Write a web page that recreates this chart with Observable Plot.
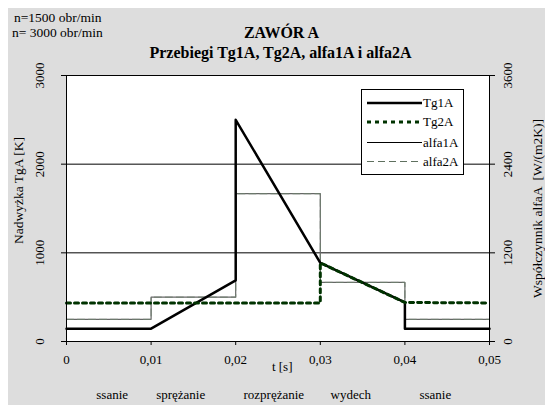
<!DOCTYPE html>
<html>
<head>
<meta charset="utf-8">
<script src="https://cdn.jsdelivr.net/npm/d3@7"></script>
<script src="https://cdn.jsdelivr.net/npm/@observablehq/plot@0.6"></script>
<style>
  html, body { margin: 0; padding: 0; background: #ffffff; }
  #page { position: relative; width: 545px; height: 405px; overflow: hidden; font-family: "Liberation Serif", "Times New Roman", serif; color: #000; }
  #bg { position: absolute; left: 8px; top: 8px; right: 0; bottom: 0; background: #dddddd; }
  #chart { position: absolute; left: 0; top: 0; }
  #chart svg, #chart svg text, #legend svg text { font-family: "Liberation Serif", "Times New Roman", serif !important; }
  .t { position: absolute; white-space: nowrap; line-height: 1; }
  #legend { position: absolute; left: 361px; top: 89px; width: 103px; height: 86px; background: #fff; border: 1px solid #000; box-sizing: border-box; }
</style>
</head>
<body>
<div id="page">
  <div id="bg"></div>
  <div id="chart"></div>
  <div class="t" style="left:14px; top:11px; font-size:13.5px;">n=1500 obr/min</div>
  <div class="t" style="left:12px; top:26px; font-size:13.5px;">n= 3000 obr/min</div>
  <div class="t" style="left:0; width:563px; text-align:center; top:25px; font-size:16px; font-weight:bold;">ZAWÓR A</div>
  <div class="t" style="left:0; width:561px; text-align:center; top:45px; font-size:16px; font-weight:bold;">Przebiegi Tg1A, Tg2A, alfa1A i alfa2A</div>
  <div id="legend"></div>
</div>
<script>
// ---- data ----
const tg1T = [0, 0.01, 0.02, 0.02, 0.03, 0.04, 0.04, 0.05];
const tg1V = [145, 145, 690, 2500, 887, 440, 145, 145];
const tg2T = [0, 0.03, 0.03, 0.04, 0.05];
const tg2V = [435, 435, 887, 440, 435];
const alfaT = [0, 0.01, 0.01, 0.02, 0.02, 0.03, 0.03, 0.04, 0.04, 0.05];
const alfa1V = [300, 300, 600, 600, 2000, 2000, 800, 800, 300, 300];
const alfa2V = [300, 300, 600, 600, 2000, 2000, 800, 800, 300, 300];
const xTicks = [0, 0.01, 0.02, 0.03, 0.04, 0.05];
const leftTicks = [0, 1000, 2000, 3000];
const rightTicks = [0, 1200, 2400, 3600];
const gridTicks = [1000, 2000];
const phaseNames = ["ssanie", "sprężanie", "rozprężanie", "wydech", "ssanie"];
const phaseT = [0.0054, 0.0135, 0.0245, 0.0336, 0.0436];
const seriesNames = ["Tg1A", "Tg2A", "alfa1A", "alfa2A"];

const RATIO = 3600 / 3000;
const pts = (ts, vs) => ts.map((t, i) => ({t, v: vs[i]}));
const fmt = d => d === 0 ? "0" : String(d).replace(".", ",");
const SERIF = "Liberation Serif";

const chart = Plot.plot({
  width: 545,
  height: 405,
  marginLeft: 66,
  marginRight: 56,
  marginTop: 75,
  marginBottom: 64,
  style: {background: "transparent", fontFamily: "'Liberation Serif', serif", fontSize: "13px", color: "#000"},
  x: {domain: [0, 0.05]},
  y: {domain: [0, 3000]},
  marks: [
    Plot.frame({fill: "white", stroke: null}),
    Plot.gridY(gridTicks, {stroke: "#000", strokeOpacity: 1, strokeWidth: 1}),
    Plot.line(pts(alfaT, alfa1V), {x: "t", y: d => d.v / RATIO, stroke: "#666", strokeWidth: 1.2}),
    Plot.line(pts(alfaT, alfa2V), {x: "t", y: d => d.v / RATIO, stroke: "#6f7f6f", strokeWidth: 1, strokeDasharray: "7,4"}),
    Plot.line(pts(tg1T, tg1V), {x: "t", y: "v", stroke: "#000", strokeWidth: 2.5}),
    Plot.line(pts(tg2T, tg2V), {x: "t", y: "v", stroke: "#003300", strokeWidth: 3, strokeDasharray: "4,4"}),
    Plot.frame({stroke: "#000", strokeWidth: 1}),
    Plot.axisY({anchor: "left", ticks: leftTicks, tickSize: 5, tickFormat: () => "", label: null}),
    Plot.axisY({anchor: "right", ticks: leftTicks, tickSize: 5, tickFormat: () => "", label: null}),
    Plot.axisX({ticks: xTicks, tickSize: 4, tickPadding: 9, tickFormat: fmt, label: null, fontSize: 13, fontFamily: SERIF}),
    Plot.text(leftTicks, {y: d => d, text: d => String(d), frameAnchor: "left", textAnchor: "middle", dx: -27, rotate: -90, fontSize: 13, fontFamily: SERIF}),
    Plot.text(rightTicks, {y: d => d / RATIO, text: d => String(d), frameAnchor: "right", textAnchor: "middle", dx: 18, rotate: -90, fontSize: 13, fontFamily: SERIF}),
    Plot.text(["Nadwyżka TgA [K]"], {text: d => d, frameAnchor: "left", textAnchor: "middle", dx: -48, dy: -18, rotate: -90, fontSize: 13.5, fontFamily: SERIF}),
    Plot.text(["Współczynnik alfaA  [W/(m2K)]"], {text: d => d, frameAnchor: "right", textAnchor: "middle", dx: 48, rotate: -90, fontSize: 13.5, fontFamily: SERIF}),
    Plot.text(["t [s]"], {x: () => 0.0255, text: d => d, frameAnchor: "bottom", dy: 29, fontSize: 13, fontFamily: SERIF}),
    Plot.text(phaseNames, {x: (d, i) => phaseT[i], text: d => d, frameAnchor: "bottom", dy: 57, fontSize: 13, fontFamily: SERIF})
  ]
});
document.getElementById("chart").appendChild(chart);

// legend
const ly = [13, 32, 52.5, 71.5];
const styles = [
  {stroke: "#000", w: 2.5, dash: ""},
  {stroke: "#003300", w: 3, dash: "4,4"},
  {stroke: "#000", w: 1, dash: ""},
  {stroke: "#5f705f", w: 1, dash: "7,4"}
];
let svg = `<svg width="101" height="84" style="display:block;font-size:13px">`;
seriesNames.forEach((n, i) => {
  const s = styles[i];
  svg += `<line x1="5" x2="60" y1="${ly[i]}" y2="${ly[i]}" stroke="${s.stroke}" stroke-width="${s.w}" ${s.dash ? `stroke-dasharray="${s.dash}"` : ""}/>`;
  svg += `<text x="61" y="${Math.round(ly[i]) + 4}">${n}</text>`;
});
svg += `</svg>`;
document.getElementById("legend").innerHTML = svg;
</script>
</body>
</html>
